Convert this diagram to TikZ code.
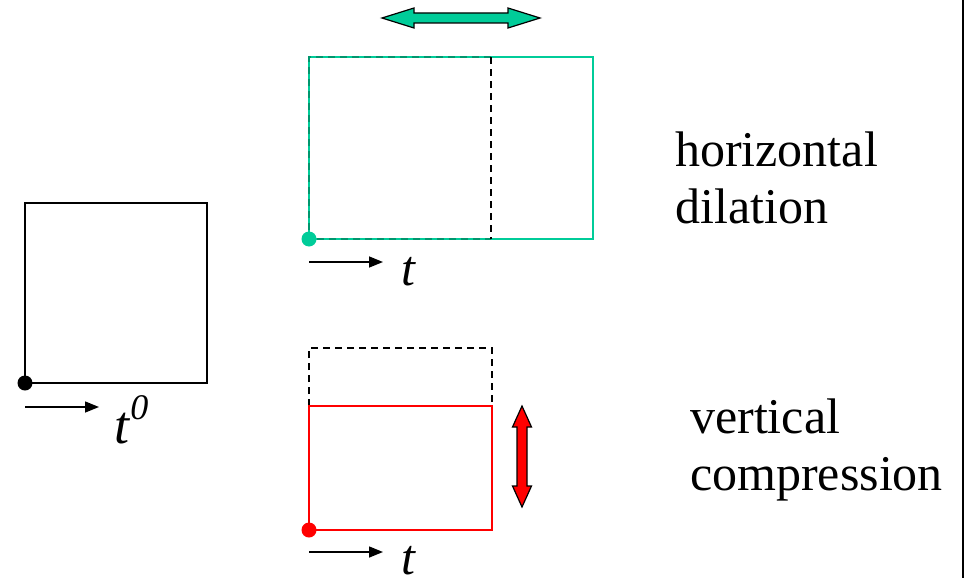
\documentclass[tikz,border=0pt]{standalone}
\usepackage{fontspec}
\setmainfont{Liberation Serif}
\newfontfamily\slidefont{Liberation Serif}
\usetikzlibrary{arrows.meta}
\definecolor{dilgreen}{RGB}{0,204,153}
\definecolor{dilgreendark}{RGB}{0,150,110}
\tikzset{
  label text/.style={font=\slidefont\fontsize{50}{57}\selectfont, inner sep=0pt, anchor=base west, align=left},
  time arrow/.style={line width=1.5pt, -{Triangle[length=14pt,width=11pt]}},
  ref dash/.style={line width=1.5pt, dash pattern=on 7pt off 5pt},
  origin dot/.style={circle, inner sep=0pt, minimum size=15pt},
}
\begin{document}
\begin{tikzpicture}[x=1pt,y=-1pt]
    \useasboundingbox (0,0) rectangle (968,578);

    % Marco derecho
    \draw[line width=2pt] (963,0) -- (963,578);

    % Cuadro original
    \draw[line width=2pt] (25,203) rectangle (207,383);
    \node[origin dot, fill=black] (o0) at (25,383) {};
    \coordinate (a0s) at (25,407);
    \coordinate (a0e) at (99,407);
    \draw[time arrow] (a0s) -- (a0e);
    \node[label text, font=\slidefont\fontsize{54}{60}\selectfont] (t0) at (114,443) {\textit{t}\raisebox{24pt}{\fontsize{36}{40}\selectfont\textit{0}}};

    % Dilatacion horizontal
    \draw[dilgreen, line width=1.5pt] (309,57) rectangle (593,239);
    \draw[ref dash, dilgreendark] (491,57) -- (309,57) -- (309,239) -- (491,239);
    \draw[ref dash, black] (491,57) -- (491,239);
    \node[origin dot, fill=dilgreen] (o1) at (309,239) {};
    \coordinate (a1s) at (309,262);
    \coordinate (a1e) at (383,262);
    \draw[time arrow] (a1s) -- (a1e);
    \node[label text] (t1) at (401,285) {\textit{t}};
    \filldraw[fill=dilgreen, draw=black, line width=1.2pt]
      (382,18) -- (414,8) -- (414,13) -- (508,13) -- (508,8) -- (540,18)
      -- (508,28) -- (508,23) -- (414,23) -- (414,28) -- cycle;
    \node[label text] (hdil) at (675,223) {horizontal\\dilation};

    % Compresion vertical
    \draw[ref dash, black] (309,406) -- (309,348) -- (492,348) -- (492,406);
    \draw[red, line width=1.5pt] (309,406) rectangle (492,530);
    \node[origin dot, fill=red] (o2) at (309,530) {};
    \coordinate (a2s) at (309,552);
    \coordinate (a2e) at (383,552);
    \draw[time arrow] (a2s) -- (a2e);
    \node[label text] (t2) at (401,574) {\textit{t}};
    \filldraw[fill=red, draw=black, line width=1.2pt]
      (522,406) -- (531.5,427) -- (527,427) -- (527,486) -- (531.5,486) -- (522,507)
      -- (512.5,486) -- (517,486) -- (517,427) -- (512.5,427) -- cycle;
    \node[label text] (vcomp) at (690,490) {vertical\\compression};
\end{tikzpicture}
\end{document}
